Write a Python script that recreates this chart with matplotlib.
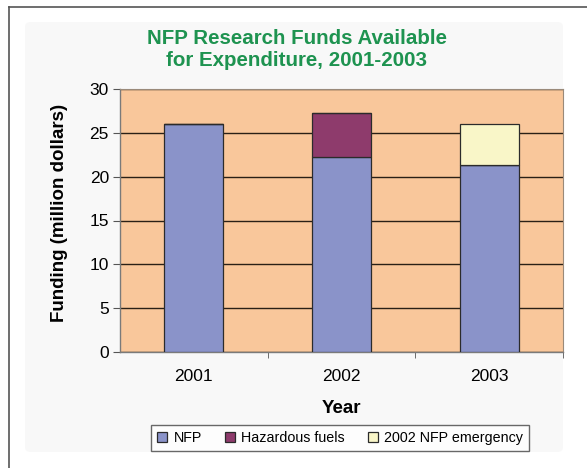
import matplotlib
matplotlib.use("Agg")
import matplotlib.pyplot as plt
from matplotlib.patches import FancyBboxPatch
from matplotlib.lines import Line2D
import numpy as np

plt.rcParams['font.family'] = ['Liberation Sans', 'DejaVu Sans']

# Data (million dollars)
years = ["2001", "2002", "2003"]
nfp = [26.0, 22.3, 21.3]
hazardous_fuels = [0.0, 5.0, 0.0]
nfp_emergency = [0.0, 0.0, 4.7]
series_labels = ["NFP", "Hazardous fuels", "2002 NFP emergency"]
y_ticks = [0, 5, 10, 15, 20, 25, 30]

W, H = 587, 468
fig = plt.figure(figsize=(W / 100, H / 100), dpi=100)
fig.patch.set_facecolor("white")

# Outer frame (left and top rules) and soft chart area
fig.add_artist(Line2D([9 / W, 9 / W], [0, 1 - 7 / H], transform=fig.transFigure,
                      color="#555555", lw=1.2))
fig.add_artist(Line2D([9 / W, 1], [1 - 7 / H, 1 - 7 / H], transform=fig.transFigure,
                      color="#555555", lw=1.2))
fig.add_artist(FancyBboxPatch((25 / W, 1 - 452 / H), (563 - 25) / W, (452 - 22) / H,
                              boxstyle="round,pad=0,rounding_size=0.01",
                              transform=fig.transFigure, facecolor="#f8f8f8",
                              edgecolor="none", zorder=-1))

ax = fig.add_axes([120 / W, 1 - 352 / H, (563 - 120) / W, (352 - 89) / H])
ax.set_facecolor("#F9C79B")

x = np.arange(len(years))
width = 0.4
edge = dict(edgecolor="#2b2b2b", linewidth=0.9, zorder=3)
ax.bar(x, nfp, width, color="#8A93C9", label=series_labels[0], **edge)
ax.bar(x, hazardous_fuels, width, bottom=nfp, color="#8E3B6C",
       label=series_labels[1], **edge)
bottom3 = [a + b for a, b in zip(nfp, hazardous_fuels)]
ax.bar(x, nfp_emergency, width, bottom=bottom3, color="#F9F6C8",
       label=series_labels[2], **edge)

ax.set_xlim(-0.5, 2.5)
ax.set_ylim(0, 30)
ax.set_yticks(y_ticks)
ax.set_yticklabels([str(v) for v in y_ticks], fontsize=12.5)
ax.yaxis.grid(True, color="#2a2016", linewidth=1.0, zorder=1)
ax.set_axisbelow(True)

ax.set_xticks(x)
ax.set_xticklabels(years, fontsize=12.5)
ax.set_xticks([0.5, 1.5, 2.5], minor=True)
ax.tick_params(axis="x", which="major", length=0, pad=12)
ax.tick_params(axis="x", which="minor", length=4, direction="out", color="#555555")
ax.tick_params(axis="y", length=5, direction="out", color="#555555", pad=3)

for side in ["left", "bottom"]:
    ax.spines[side].set_color("#7a7a7a")
    ax.spines[side].set_linewidth(1.0)
for side in ["top", "right"]:
    ax.spines[side].set_color("#9a8a7a")
    ax.spines[side].set_linewidth(0.8)

ax.set_xlabel("Year", fontsize=13.5, fontweight="bold", labelpad=12)
fig.text(60 / W, 1 - 213 / H, "Funding (million dollars)", rotation=90,
         ha="center", va="center", fontsize=13.5, fontweight="bold")

fig.text(297 / W, 1 - 38 / H, "NFP Research Funds Available",
         ha="center", va="center", fontsize=14.8, fontweight="bold", color="#1E9350")
fig.text(297 / W, 1 - 60 / H, "for Expenditure, 2001-2003",
         ha="center", va="center", fontsize=14.8, fontweight="bold", color="#1E9350")

leg = fig.legend(loc="center", bbox_to_anchor=(340 / W, 1 - 438 / H), ncol=3,
                 fontsize=10.3, frameon=True, fancybox=False, handlelength=0.7,
                 handleheight=0.7, handletextpad=0.45, columnspacing=1.6,
                 borderpad=0.4)
leg.get_frame().set_edgecolor("#444444")
leg.get_frame().set_linewidth(1.0)
leg.get_frame().set_facecolor("white")

fig.savefig("out.png", dpi=100)
